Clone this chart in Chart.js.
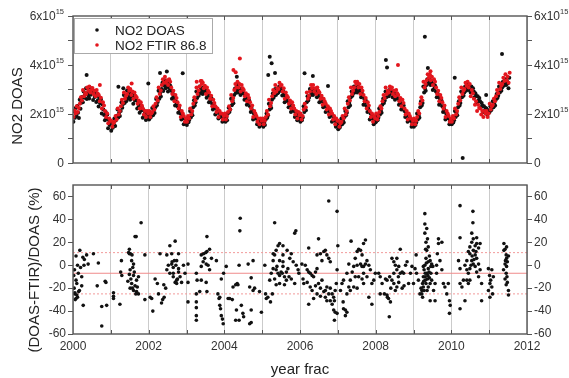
<!DOCTYPE html>
<html>
<head>
<meta charset="utf-8">
<script src="https://cdn.jsdelivr.net/npm/chart.js@4.4.1/dist/chart.umd.min.js"></script>
<style>
body { margin: 0; background: #fff; }
#wrap { position: relative; width: 569px; height: 378px; }
#top { position: absolute; left: 0; top: 0; }
#bottom { position: absolute; left: 0; top: 175px; }
</style>
</head>
<body>
<div id="wrap">
  <canvas id="top" width="569" height="175"></canvas>
  <canvas id="bottom" width="569" height="203"></canvas>
</div>
<script>
// NO2 columns in units of 1e15, DOAS ~4 samples a month, FTIR ~3 a month
const doasPerYear = 48;
const ftirPerYear = 36;

const doas2000 = [1.68, 2.12, 1.85, 2.24, 1.92, 2.33, 2.05, 1.84, 2.58, 2.21, 2.46, 2.69, 2.48, 2.92, 2.66, 2.81, 3.05, 2.61, 2.86, 2.74, 2.63, 3.08, 2.79, 2.95, 2.98, 2.57, 2.84, 2.69, 2.88, 2.49, 2.75, 2.56, 2.31, 2.68, 2.44, 2.59, 2.02, 2.39, 2.18, 1.96, 1.74, 2.08, 1.83, 1.98, 1.42, 1.76, 1.55, 1.68];
const doas2001 = [1.32, 1.65, 1.44, 1.58, 1.82, 1.51, 1.74, 1.93, 2.18, 1.86, 2.05, 1.92, 2.12, 2.48, 2.26, 2.41, 2.78, 2.45, 2.63, 2.52, 2.96, 2.62, 2.85, 2.71, 2.58, 2.92, 2.69, 2.81, 2.42, 2.77, 2.55, 2.66, 2.58, 2.22, 2.46, 2.31, 2.05, 2.36, 2.14, 2.28, 1.85, 2.16, 1.94, 2.07, 1.76, 2.05, 1.86, 1.98];
const doas2002 = [1.78, 2.08, 1.86, 1.98, 2.25, 1.95, 2.16, 2.04, 2.28, 2.61, 2.36, 2.49, 2.95, 2.62, 2.84, 2.71, 3.02, 3.28, 2.94, 3.16, 3.38, 3.05, 3.24, 3.12, 2.92, 3.26, 3.05, 3.15, 2.95, 2.62, 2.84, 2.71, 2.61, 2.35, 2.52, 2.41, 2.32, 2.05, 2.24, 2.12, 2.02, 1.78, 1.95, 1.85, 1.58, 1.82, 1.66, 1.74];
const doas2003 = [1.55, 1.84, 1.66, 1.76, 2.12, 1.86, 2.05, 1.95, 2.28, 2.56, 2.35, 2.48, 2.92, 2.65, 2.84, 2.74, 3.12, 2.86, 3.04, 2.95, 2.82, 3.08, 2.91, 3.01, 2.95, 2.66, 2.86, 2.75, 2.48, 2.75, 2.56, 2.66, 2.42, 2.18, 2.35, 2.26, 1.98, 2.24, 2.05, 2.15, 1.82, 2.04, 1.88, 1.96, 1.92, 1.68, 1.84, 1.74];
const doas2004 = [1.92, 1.68, 1.86, 1.75, 2.02, 2.26, 2.08, 2.18, 2.62, 2.36, 2.55, 2.44, 2.78, 3.04, 2.86, 2.96, 3.12, 2.88, 3.06, 2.95, 2.78, 3.02, 2.85, 2.95, 2.84, 2.58, 2.76, 2.65, 2.38, 2.62, 2.45, 2.55, 2.32, 2.08, 2.25, 2.14, 1.78, 2.02, 1.86, 1.95, 1.82, 1.58, 1.75, 1.66, 1.48, 1.72, 1.55, 1.64];
const doas2005 = [1.72, 1.48, 1.65, 1.55, 1.78, 2.02, 1.85, 1.95, 2.42, 2.18, 2.35, 2.25, 2.58, 2.84, 2.66, 2.76, 3.02, 2.78, 2.95, 2.85, 2.88, 3.12, 2.95, 3.05, 3.02, 2.76, 2.94, 2.84, 2.48, 2.72, 2.56, 2.66, 2.52, 2.28, 2.45, 2.35, 2.08, 2.32, 2.15, 2.25, 2.12, 1.88, 2.05, 1.95, 1.74, 1.96, 1.82, 1.92];
const doas2006 = [1.68, 1.92, 1.75, 1.86, 2.32, 2.08, 2.25, 2.15, 2.48, 2.72, 2.55, 2.66, 3.02, 2.78, 2.95, 2.85, 2.78, 3.02, 2.86, 2.96, 2.92, 2.68, 2.85, 2.75, 2.48, 2.72, 2.55, 2.65, 2.52, 2.28, 2.45, 2.35, 2.08, 2.32, 2.15, 2.25, 2.12, 1.88, 2.05, 1.95, 1.68, 1.92, 1.75, 1.85, 1.72, 1.48, 1.65, 1.55];
const doas2007 = [1.38, 1.62, 1.45, 1.55, 1.82, 1.58, 1.75, 1.65, 1.88, 2.12, 1.95, 2.05, 2.52, 2.28, 2.45, 2.35, 2.68, 2.92, 2.75, 2.85, 3.12, 2.88, 3.05, 2.95, 2.88, 3.12, 2.95, 3.05, 2.92, 2.68, 2.85, 2.75, 2.38, 2.62, 2.45, 2.55, 2.32, 2.08, 2.25, 2.15, 1.78, 2.02, 1.85, 1.95, 1.82, 1.58, 1.75, 1.65];
const doas2008 = [1.68, 1.92, 1.75, 1.85, 2.22, 1.98, 2.15, 2.05, 2.38, 2.62, 2.45, 2.55, 2.92, 2.68, 2.85, 2.75, 2.72, 2.98, 2.82, 2.92, 2.92, 2.68, 2.85, 2.75, 2.58, 2.82, 2.65, 2.75, 2.62, 2.38, 2.55, 2.45, 2.18, 2.42, 2.25, 2.35, 2.12, 1.88, 2.05, 1.95, 1.68, 1.92, 1.75, 1.85, 1.72, 1.48, 1.65, 1.55];
const doas2009 = [1.48, 1.72, 1.55, 1.65, 2.02, 1.78, 1.95, 1.85, 2.28, 2.52, 2.35, 2.45, 3.12, 2.88, 3.05, 2.95, 3.18, 3.42, 3.25, 3.35, 3.42, 3.18, 3.35, 3.25, 2.98, 3.22, 3.05, 3.15, 2.92, 2.68, 2.85, 2.75, 2.38, 2.62, 2.45, 2.55, 2.32, 2.08, 2.25, 2.15, 1.78, 2.02, 1.85, 1.95, 1.82, 1.58, 1.75, 1.65];
const doas2010 = [1.58, 1.82, 1.65, 1.75, 2.12, 1.88, 2.05, 1.95, 2.28, 2.52, 2.35, 2.45, 2.92, 2.68, 2.85, 2.75, 2.88, 3.12, 2.95, 3.05, 3.22, 2.98, 3.15, 3.05, 2.88, 3.12, 2.95, 3.05, 2.92, 2.68, 2.85, 2.75, 2.48, 2.72, 2.55, 2.65, 2.52, 2.28, 2.45, 2.35, 2.08, 2.32, 2.15, 2.25, 2.22, 1.98, 2.15, 2.05];
const doas2011 = [2.08, 2.32, 2.15, 2.25, 2.52, 2.28, 2.45, 2.35, 2.58, 2.82, 2.65, 2.75, 3.12, 2.88, 3.05, 2.95, 3.08, 3.32, 3.15, 3.25, 3.42, 3.18, 3.35, 3.25, 3.05, 3.48];

const ftir2000 = [1.88, 2.14, 2.02, 2.32, 2.08, 2.24, 2.42, 2.68, 2.55, 2.98, 2.72, 2.86, 2.82, 3.08, 2.95, 3.12, 2.88, 2.98, 3.06, 2.82, 2.95, 2.72, 2.98, 2.84, 2.78, 2.52, 2.66, 2.22, 2.48, 2.35, 2.12, 1.88, 2.02, 1.62, 1.82, 1.72];
const ftir2001 = [1.72, 1.48, 1.62, 1.68, 1.92, 1.78, 2.22, 1.98, 2.12, 2.32, 2.58, 2.45, 2.88, 2.62, 2.75, 2.82, 3.08, 2.95, 3.02, 2.78, 2.92, 2.62, 2.88, 2.75, 2.68, 2.42, 2.55, 2.22, 2.48, 2.35, 2.22, 1.98, 2.12, 1.88, 2.12, 2.02];
const ftir2002 = [2.12, 1.88, 2.02, 2.08, 2.32, 2.18, 2.42, 2.68, 2.55, 3.08, 2.82, 2.96, 3.18, 3.42, 3.28, 3.52, 3.28, 3.38, 3.18, 3.42, 3.32, 3.08, 2.82, 2.95, 2.52, 2.78, 2.65, 2.48, 2.22, 2.35, 1.88, 2.12, 2.02, 1.92, 1.68, 1.82];
const ftir2003 = [1.68, 1.92, 1.82, 2.22, 1.98, 2.12, 2.42, 2.68, 2.55, 3.08, 2.82, 2.96, 3.12, 3.35, 3.22, 3.28, 3.05, 3.15, 2.82, 3.08, 2.95, 2.88, 2.62, 2.75, 2.32, 2.58, 2.45, 2.32, 2.08, 2.22, 1.88, 2.12, 2.02, 2.02, 1.78, 1.92];
const ftir2004 = [2.02, 1.78, 1.92, 2.08, 2.32, 2.18, 2.78, 2.52, 2.65, 2.98, 3.22, 3.08, 3.32, 3.08, 3.22, 2.92, 3.18, 3.05, 2.98, 2.72, 2.85, 2.52, 2.78, 2.65, 2.48, 2.22, 2.35, 1.88, 2.12, 2.02, 1.92, 1.68, 1.82, 1.58, 1.82, 1.72];
const ftir2005 = [1.82, 1.58, 1.72, 1.88, 2.12, 1.98, 2.58, 2.32, 2.45, 2.72, 2.98, 2.85, 3.18, 2.92, 3.05, 3.02, 3.28, 3.15, 3.18, 2.92, 3.05, 2.62, 2.88, 2.75, 2.68, 2.42, 2.55, 2.22, 2.48, 2.35, 2.22, 1.98, 2.12, 1.82, 2.08, 1.95];
const ftir2006 = [2.02, 1.78, 1.92, 2.18, 2.42, 2.28, 2.88, 2.62, 2.75, 2.92, 3.18, 3.05, 3.18, 2.92, 3.05, 2.82, 3.08, 2.95, 2.88, 2.62, 2.75, 2.38, 2.62, 2.52, 2.42, 2.18, 2.32, 1.98, 2.22, 2.12, 2.02, 1.78, 1.92, 1.58, 1.82, 1.72];
const ftir2007 = [1.72, 1.48, 1.62, 1.68, 1.92, 1.82, 2.22, 1.98, 2.12, 2.42, 2.68, 2.55, 3.08, 2.82, 2.95, 3.08, 3.32, 3.22, 3.32, 3.08, 3.22, 2.82, 3.08, 2.95, 2.78, 2.52, 2.65, 2.22, 2.48, 2.35, 2.12, 1.88, 2.02, 1.68, 1.92, 1.82];
const ftir2008 = [2.02, 1.78, 1.92, 2.08, 2.32, 2.22, 2.52, 2.78, 2.65, 3.08, 2.82, 2.95, 2.88, 3.12, 3.02, 3.08, 2.82, 2.95, 2.72, 2.98, 2.85, 2.78, 2.52, 2.65, 2.32, 2.58, 2.45, 2.22, 1.98, 2.12, 1.78, 2.02, 1.92, 1.82, 1.58, 1.72];
const ftir2009 = [1.82, 1.58, 1.72, 1.88, 2.12, 2.02, 2.42, 2.68, 2.55, 3.32, 3.08, 3.22, 3.38, 3.62, 3.48, 3.62, 3.38, 3.52, 3.18, 3.42, 3.32, 3.08, 2.82, 2.95, 2.52, 2.78, 2.65, 2.48, 2.22, 2.35, 1.88, 2.12, 2.02, 1.92, 1.68, 1.82];
const ftir2010 = [1.68, 1.92, 1.82, 2.22, 1.98, 2.12, 2.42, 2.68, 2.55, 3.08, 2.82, 2.95, 3.02, 3.28, 3.15, 3.32, 3.08, 3.22, 2.72, 2.98, 2.85, 2.62, 2.38, 2.52, 2.12, 2.38, 2.25, 2.22, 1.98, 2.12, 1.88, 2.12, 2.02, 2.12, 1.88, 2.02];
const ftir2011 = [2.42, 2.18, 2.32, 2.38, 2.62, 2.52, 2.72, 2.98, 2.85, 3.28, 3.02, 3.15, 3.22, 3.48, 3.35, 3.62, 3.38, 3.52, 3.28, 3.68];

// isolated points away from the seasonal band
const doasOutlierTimes = [2000.36, 2001.20, 2001.33, 2001.99, 2002.30, 2002.48, 2002.90, 2004.33, 2004.36, 2005.16, 2005.20, 2005.25, 2005.34, 2006.12, 2006.34, 2006.74, 2008.27, 2008.30, 2009.30, 2009.38, 2010.09, 2010.30, 2010.92, 2011.34];
const doasOutlierValues = [3.59, 3.11, 3.05, 3.25, 3.67, 3.73, 3.66, 3.52, 3.26, 3.59, 4.34, 4.07, 3.67, 3.66, 3.55, 3.14, 4.20, 3.90, 5.15, 3.88, 3.48, 0.20, 2.78, 4.45];
const ftirOutlierTimes = [2000.71, 2001.55, 2003.27, 2003.40, 2004.24, 2004.30, 2004.41, 2008.59, 2009.45];
const ftirOutlierValues = [3.18, 3.25, 3.32, 3.35, 3.80, 3.70, 4.27, 4.00, 3.75];

// relative difference (DOAS-FTIR)/DOAS in %, [year, value]
const diffPoints = [
  [2000.08, 8], [2000.18, 13], [2000.26, 7], [2000.29, 0], [2000.12, 0], [2000.14, -7], [2000.23, -10], [2000.08, -13],
  [2000.10, -16], [2000.23, -18], [2000.17, -22], [2000.05, -25], [2000.12, -28], [2000.08, -29], [2000.27, -35], [2000.36, 9],
  [2000.40, 1], [2000.54, 10], [2000.67, 2], [2000.64, -18], [2000.85, -14], [2000.87, -15], [2000.76, -36], [2000.89, -35],
  [2000.76, -53], [2000.03, -20], [2000.05, -24], [2000.06, -30], [2000.10, -26], [2000.15, -23], [2000.20, -2], [2000.02, -9],
  [2000.04, -4], [2000.30, 5],
  [2001.07, -24], [2001.07, -27], [2001.07, -29], [2001.24, -34], [2001.28, 4], [2001.26, -6], [2001.29, -9], [2001.49, 14],
  [2001.52, 10], [2001.49, 10], [2001.56, 9], [2001.55, 4], [2001.60, 1], [2001.51, -4], [2001.49, -8], [2001.53, -12],
  [2001.60, -9], [2001.55, -16], [2001.64, -18], [2001.51, -20], [2001.60, -22], [2001.68, -23], [2001.73, -25], [2001.66, -25],
  [2001.68, -13], [2001.73, -10], [2001.67, 25], [2001.64, 25], [2001.80, 37], [2001.90, 9], [2001.90, -30], [2002.04, -28],
  [2001.47, 11], [2001.58, -2], [2001.62, -6], [2001.45, -14], [2001.57, -20], [2001.70, -19],
  [2002.08, -29], [2002.11, -40], [2002.17, -12], [2002.23, -16], [2002.26, -25], [2002.30, 10], [2002.34, -33], [2002.37, -30],
  [2002.41, -28], [2002.48, 9], [2002.56, 17], [2002.70, 21], [2002.61, 1], [2002.52, 0], [2002.48, -4], [2002.65, -2],
  [2002.74, 4], [2002.79, -3], [2002.56, -7], [2002.65, -10], [2002.74, -13], [2002.70, -15], [2002.79, -6], [2002.83, -10],
  [2002.87, -15], [2002.92, 0], [2002.96, -7], [2002.61, 10], [2002.79, 10], [2002.65, -7], [2002.72, 0], [2002.76, -12],
  [2002.68, 4], [2002.74, -16], [2002.62, 3], [2002.45, -20], [2002.40, -17],
  [2003.04, 1], [2003.04, -15], [2003.04, -32], [2003.26, -25], [2003.26, -32], [2003.26, -37], [2003.26, -44], [2003.26, -48],
  [2003.26, -7], [2003.28, -13], [2003.39, -13], [2003.52, -15], [2003.54, -23], [2003.35, -23], [2003.39, 9], [2003.45, 10],
  [2003.51, 11], [2003.54, 12], [2003.61, 14], [2003.44, 3], [2003.52, 1], [2003.57, 0], [2003.39, -1], [2003.61, -4],
  [2003.54, 25], [2003.48, 6], [2003.66, 6], [2003.79, 4], [2003.83, -25], [2003.86, -29], [2003.88, -35], [2003.90, -38],
  [2003.92, -44], [2003.95, -47], [2003.97, -51], [2003.92, -12], [2003.98, -7], [2003.88, -28],
  [2004.05, -1], [2004.10, -29], [2004.14, -29], [2004.21, -30], [2004.23, -19], [2004.30, -17], [2004.34, -16], [2004.36, -17],
  [2004.39, 0], [2004.41, 30], [2004.42, 41], [2004.32, -39], [2004.30, -48], [2004.39, -48], [2004.45, -35], [2004.49, -42],
  [2004.51, -45], [2004.63, 1], [2004.71, -11], [2004.76, 4], [2004.67, -19], [2004.76, -22], [2004.80, -20], [2004.93, -23],
  [2004.98, -41], [2004.71, -39], [2004.71, -50], [2004.67, -51],
  [2005.07, 0], [2005.09, -25], [2005.11, -29], [2005.15, -28], [2005.22, -32], [2005.27, -25], [2005.29, 4], [2005.33, 37],
  [2005.33, 9], [2005.37, 13], [2005.42, 17], [2005.46, 19], [2005.55, 17], [2005.29, -3], [2005.37, -4], [2005.42, -7],
  [2005.46, -9], [2005.50, -6], [2005.55, -1], [2005.59, -10], [2005.64, -13], [2005.68, -3], [2005.73, 6], [2005.77, 10],
  [2005.82, 3], [2005.86, 28], [2005.89, 30], [2005.90, 0], [2005.95, -4], [2005.37, -17], [2005.46, -16], [2005.59, -17],
  [2005.77, -12], [2005.86, -16], [2005.46, 4], [2005.55, 3], [2005.33, -12], [2005.20, -13], [2005.24, -7], [2005.39, -1],
  [2005.53, -7], [2005.64, -6], [2005.71, -10], [2005.97, -7], [2005.29, 10], [2005.66, 13], [2005.55, 9],
  [2006.05, 1], [2006.08, -12], [2006.10, -16], [2006.14, 0], [2006.19, -4], [2006.23, 15], [2006.23, -6], [2006.27, -7],
  [2006.32, -9], [2006.36, -10], [2006.41, -6], [2006.45, -3], [2006.45, 9], [2006.49, 23], [2006.54, 10], [2006.58, 4],
  [2006.63, 12], [2006.67, 13], [2006.71, 9], [2006.76, 6], [2006.80, 3], [2006.19, -15], [2006.27, -19], [2006.32, -22],
  [2006.41, -18], [2006.49, -16], [2006.54, -20], [2006.58, -13], [2006.63, -23], [2006.67, -22], [2006.71, -19], [2006.76, -25],
  [2006.80, -20], [2006.85, -25], [2006.89, -28], [2006.91, -31], [2006.93, -22], [2006.96, -16], [2006.98, -4], [2007.00, 17],
  [2006.67, -28], [2006.71, -31], [2006.80, -31], [2006.85, -34], [2006.89, -39], [2006.93, -41], [2006.98, -42], [2006.91, -48],
  [2006.76, 56], [2006.98, 47], [2006.23, -34], [2006.54, -27], [2006.45, -25], [2006.36, -29],
  [2007.07, -22], [2007.11, -16], [2007.15, -13], [2007.14, -32], [2007.15, -38], [2007.20, -39], [2007.24, -25], [2007.29, -19],
  [2007.33, -13], [2007.35, 21], [2007.38, -6], [2007.42, -1], [2007.46, 6], [2007.51, 12], [2007.55, 14], [2007.60, 13],
  [2007.64, 9], [2007.68, 19], [2007.73, 22], [2007.77, 4], [2007.82, 0], [2007.86, -4], [2007.60, 1], [2007.64, -1],
  [2007.51, 0], [2007.46, -10], [2007.55, -10], [2007.64, -12], [2007.68, -16], [2007.42, -19], [2007.33, -22], [2007.51, -20],
  [2007.24, -7], [2007.29, 1], [2007.68, -1], [2007.73, 1], [2007.68, -7], [2007.77, -10], [2007.90, -16], [2007.95, -13],
  [2007.99, -7], [2007.90, -34], [2007.82, -28], [2007.24, -41], [2007.20, -44],
  [2008.08, -7], [2008.12, -10], [2008.17, -16], [2008.23, -25], [2008.30, -26], [2008.34, -29], [2008.39, -32], [2008.26, -12],
  [2008.30, -13], [2008.37, -10], [2008.43, 6], [2008.48, 3], [2008.52, 0], [2008.56, -4], [2008.61, -1], [2008.65, 14],
  [2008.70, -6], [2008.74, -7], [2008.79, 0], [2008.83, 3], [2008.65, -7], [2008.61, -15], [2008.56, -19], [2008.48, -16],
  [2008.43, -13], [2008.52, -22], [2008.92, -7], [2008.96, -1], [2008.87, -16], [2008.12, -25], [2008.56, 6], [2008.48, -7],
  [2008.36, -45], [2008.31, -28], [2008.40, -20], [2008.60, -10], [2008.70, -20], [2008.75, -18],
  [2009.00, -16], [2009.04, -3], [2009.07, 9], [2009.08, -7], [2009.13, -13], [2009.17, -25], [2009.22, -22], [2009.24, -16],
  [2009.26, -10], [2009.28, -4], [2009.30, 0], [2009.33, 6], [2009.35, 13], [2009.33, 20], [2009.30, 28], [2009.30, 36],
  [2009.30, 45], [2009.35, 32], [2009.37, 23], [2009.39, 16], [2009.42, 8], [2009.44, 4], [2009.39, -3], [2009.35, -7],
  [2009.31, -13], [2009.26, -19], [2009.22, -25], [2009.39, -19], [2009.44, -16], [2009.48, -13], [2009.46, -7], [2009.51, -1],
  [2009.48, 1], [2009.53, -22], [2009.57, -16], [2009.61, -7], [2009.61, 0], [2009.63, 10], [2009.66, 19], [2009.66, 23],
  [2009.70, 4], [2009.75, -4], [2009.75, 20], [2009.79, -16], [2009.83, -19], [2009.88, -25], [2009.92, -16], [2009.95, -31],
  [2009.97, -35], [2009.95, -42], [2009.44, -31], [2009.57, -31], [2009.24, -28], [2009.28, -22], [2009.33, -16], [2009.37, -12],
  [2009.41, -6], [2009.46, -1], [2009.31, -7], [2009.26, -1], [2009.39, 3], [2009.20, -20], [2009.31, -10], [2009.34, 2],
  [2009.38, -9], [2009.32, 14], [2009.36, -22], [2009.27, -14], [2009.42, -11],
  [2010.23, 52], [2010.19, 4], [2010.23, -3], [2010.23, -16], [2010.28, -19], [2010.23, -38], [2010.23, 24], [2010.36, 0],
  [2010.41, -4], [2010.45, -7], [2010.41, -13], [2010.45, -16], [2010.36, -31], [2010.49, 10], [2010.49, 16], [2010.54, 20],
  [2010.54, 28], [2010.57, 47], [2010.57, 37], [2010.58, 13], [2010.63, 17], [2010.63, 9], [2010.67, 19], [2010.67, 6],
  [2010.72, 15], [2010.72, 1], [2010.76, -4], [2010.76, 19], [2010.80, -16], [2010.80, -31], [2010.58, 1], [2010.54, 4],
  [2010.49, -3], [2010.63, -1], [2010.67, -6], [2010.49, -13], [2010.41, 4], [2010.45, 12], [2010.58, 23], [2010.67, 24],
  [2010.72, -10], [2010.32, -13], [2010.55, 8], [2010.60, 5], [2010.52, 0], [2010.65, 12],
  [2010.98, -3], [2011.01, -9], [2011.02, -16], [2011.04, -13], [2011.07, -4], [2011.07, -19], [2011.09, -25], [2011.02, -28],
  [2011.11, -10], [2010.98, -22], [2011.39, 19], [2011.42, 14], [2011.45, 9], [2011.46, 6], [2011.48, 3], [2011.42, 1],
  [2011.46, -1], [2011.45, -7], [2011.42, -12], [2011.48, -15], [2011.45, -17], [2011.51, -22], [2011.51, -26], [2011.39, 13],
  [2011.46, 16], [2011.51, 8], [2011.38, -4], [2011.43, 4], [2011.47, -10]
];

// mean difference and +-1 sigma band
const meanDiff = -7;
const upperDiff = 11;
const lowerDiff = -25;

const fontFamily = '"Liberation Sans", Arial, sans-serif';
const axisColor = '#555';
const labelColor = '#333';
const gridColor = '#cbcbcb';

const yearSeries = (year, values, perYear) => values.map((v, i) => ({ x: year + (i + 0.5) / perYear, y: v }));

const doasByYear = [doas2000, doas2001, doas2002, doas2003, doas2004, doas2005, doas2006, doas2007, doas2008, doas2009, doas2010, doas2011];
const ftirByYear = [ftir2000, ftir2001, ftir2002, ftir2003, ftir2004, ftir2005, ftir2006, ftir2007, ftir2008, ftir2009, ftir2010, ftir2011];

const doasData = doasByYear.flatMap((vals, i) => yearSeries(2000 + i, vals, doasPerYear))
    .concat(doasOutlierTimes.map((t, i) => ({ x: t, y: doasOutlierValues[i] })));
const ftirData = ftirByYear.flatMap((vals, i) => yearSeries(2000 + i, vals, ftirPerYear))
    .concat(ftirOutlierTimes.map((t, i) => ({ x: t, y: ftirOutlierValues[i] })));
const diffData = diffPoints.map(p => ({ x: p[0], y: p[1] }));

// Box around the plot area plus small inward year ticks on top and bottom edges
const framePlugin = {
    id: 'frame',
    afterDraw(chart) {
        const { ctx, chartArea: a, scales } = chart;
        ctx.save();
        ctx.strokeStyle = axisColor;
        ctx.lineWidth = 1.4;
        ctx.strokeRect(a.left, a.top, a.right - a.left, a.bottom - a.top);
        ctx.lineWidth = 1;
        for (let yr = 2001; yr < 2012; yr++) {
            const x = Math.round(scales.x.getPixelForValue(yr)) + 0.5;
            ctx.beginPath();
            ctx.moveTo(x, a.top); ctx.lineTo(x, a.top + 4);
            ctx.moveTo(x, a.bottom); ctx.lineTo(x, a.bottom - 4);
            ctx.stroke();
        }
        ctx.restore();
    }
};

// Tick labels like 2x10^15 with a raised exponent, on both sides
const powerLabelsPlugin = {
    id: 'powerLabels',
    afterDraw(chart) {
        const { ctx, scales } = chart;
        ctx.save();
        ctx.fillStyle = labelColor;
        ctx.textBaseline = 'middle';
        [0, 2, 4, 6].forEach(v => {
            const y = scales.y.getPixelForValue(v);
            ctx.font = '12px ' + fontFamily;
            if (v === 0) {
                ctx.textAlign = 'right';
                ctx.fillText('0', 64, y + 1);
                ctx.textAlign = 'left';
                ctx.fillText('0', 534, y + 1);
                return;
            }
            const base = v + 'x10';
            const wBase = ctx.measureText(base).width;
            ctx.font = '7.5px ' + fontFamily;
            const wExp = ctx.measureText('15').width;
            ctx.textAlign = 'left';
            [64 - wBase - wExp, 534].forEach(x0 => {
                ctx.font = '12px ' + fontFamily;
                ctx.fillText(base, x0, y + 1);
                ctx.font = '7.5px ' + fontFamily;
                ctx.fillText('15', x0 + wBase, y - 4);
            });
        });
        ctx.restore();
    }
};

const legendPlugin = {
    id: 'legendBox',
    afterDraw(chart) {
        const { ctx } = chart;
        ctx.save();
        ctx.fillStyle = '#fff';
        ctx.fillRect(74.5, 18.5, 138, 35);
        ctx.strokeStyle = '#aaa';
        ctx.lineWidth = 1;
        ctx.strokeRect(74.5, 18.5, 138, 35);
        const entries = [['NO2 DOAS', '#111', 30], ['NO2 FTIR 86.8', '#e3161d', 45]];
        ctx.font = '13.5px ' + fontFamily;
        ctx.textBaseline = 'middle';
        entries.forEach(([text, color, y]) => {
            ctx.fillStyle = color;
            ctx.beginPath();
            ctx.arc(97, y, 1.8, 0, Math.PI * 2);
            ctx.fill();
            ctx.fillStyle = '#222';
            ctx.fillText(text, 115, y + 1);
        });
        ctx.restore();
    }
};

const verticalTitle = (text, x, y) => ({
    id: 'vtitle',
    afterDraw(chart) {
        const { ctx } = chart;
        ctx.save();
        ctx.translate(x, y);
        ctx.rotate(-Math.PI / 2);
        ctx.fillStyle = '#222';
        ctx.font = '15px ' + fontFamily;
        ctx.textAlign = 'center';
        ctx.textBaseline = 'middle';
        ctx.fillText(text, 0, 0);
        ctx.restore();
    }
});

const yearTitlePlugin = {
    id: 'yearTitle',
    afterDraw(chart) {
        const { ctx } = chart;
        ctx.save();
        ctx.fillStyle = '#222';
        ctx.font = '15px ' + fontFamily;
        ctx.textAlign = 'center';
        ctx.textBaseline = 'alphabetic';
        ctx.fillText('year frac', 300, 199);
        ctx.restore();
    }
};

const sideAxis = (position, min, max, step, width, labelCb) => ({
    type: 'linear',
    position: position,
    min: min,
    max: max,
    ticks: {
        stepSize: step,
        display: labelCb !== null,
        callback: labelCb || (() => ''),
        color: labelColor,
        font: { family: fontFamily, size: 12 },
        padding: 2
    },
    grid: { drawOnChartArea: false, drawTicks: true, tickLength: 5, tickColor: axisColor },
    border: { display: false },
    afterFit: (scale) => { scale.width = width; }
});

Chart.defaults.font.family = fontFamily;

// Top panel: NO2 columns
new Chart(document.getElementById('top'), {
    type: 'scatter',
    data: {
        datasets: [
            { label: 'NO2 DOAS', data: doasData, backgroundColor: '#111', borderWidth: 0, pointRadius: 2, order: 2 },
            { label: 'NO2 FTIR 86.8', data: ftirData, backgroundColor: '#e3161d', borderWidth: 0, pointRadius: 2, order: 1 }
        ]
    },
    options: {
        responsive: false,
        animation: false,
        devicePixelRatio: 1,
        layout: { padding: { top: 16, left: 0, right: 0, bottom: 0 } },
        plugins: { legend: { display: false }, tooltip: { enabled: false } },
        scales: {
            x: {
                type: 'linear', min: 2000, max: 2012,
                ticks: { stepSize: 1, display: false },
                grid: { color: gridColor, drawTicks: false },
                border: { display: false },
                afterFit: (scale) => { scale.height = 12; }
            },
            y: sideAxis('left', 0, 6, 1, 73, null),
            y2: sideAxis('right', 0, 6, 1, 42, null)
        }
    },
    plugins: [framePlugin, powerLabelsPlugin, legendPlugin, verticalTitle('NO2 DOAS', 17.5, 106)]
});

const pctLabel = (v) => (v % 20 === 0 && v <= 60 ? String(v) : '');

// Bottom panel: relative difference
new Chart(document.getElementById('bottom'), {
    type: 'scatter',
    data: {
        datasets: [
            { data: diffData, backgroundColor: '#111', borderWidth: 0, pointRadius: 1.8, order: 1 },
            { data: [{ x: 2000, y: meanDiff }, { x: 2012, y: meanDiff }], showLine: true, borderColor: '#f08a8a', borderWidth: 1, pointRadius: 0, order: 2 },
            { data: [{ x: 2000, y: upperDiff }, { x: 2012, y: upperDiff }], showLine: true, borderColor: '#f29a9a', borderWidth: 1, borderDash: [2, 2], pointRadius: 0, order: 3 },
            { data: [{ x: 2000, y: lowerDiff }, { x: 2012, y: lowerDiff }], showLine: true, borderColor: '#f29a9a', borderWidth: 1, borderDash: [2, 2], pointRadius: 0, order: 4 }
        ]
    },
    options: {
        responsive: false,
        animation: false,
        devicePixelRatio: 1,
        layout: { padding: { top: 10, left: 0, right: 0, bottom: 0 } },
        plugins: { legend: { display: false }, tooltip: { enabled: false } },
        scales: {
            x: {
                type: 'linear', min: 2000, max: 2012,
                ticks: {
                    stepSize: 1, autoSkip: false, maxRotation: 0,
                    callback: (v) => (v % 2 === 0 ? String(v) : ''),
                    color: labelColor, font: { family: fontFamily, size: 12 }, padding: 5
                },
                grid: { color: gridColor, drawTicks: false },
                border: { display: false },
                afterFit: (scale) => { scale.height = 44; }
            },
            y: sideAxis('left', -60, 70, 10, 73, pctLabel),
            y2: sideAxis('right', -60, 70, 10, 42, pctLabel)
        }
    },
    plugins: [framePlugin, verticalTitle('(DOAS-FTIR)/DOAS (%)', 35, 95), yearTitlePlugin]
});
</script>
</body>
</html>
